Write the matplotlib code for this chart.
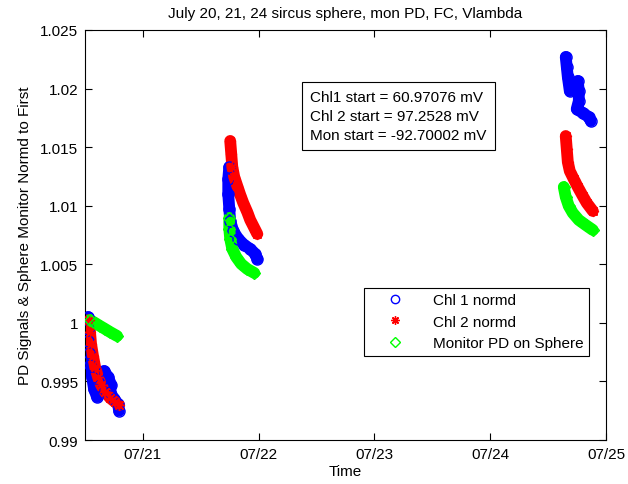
import numpy as np
import matplotlib
matplotlib.use('Agg')
from matplotlib import pyplot as plt
import matplotlib.dates as mdates
from matplotlib.ticker import FuncFormatter
from datetime import datetime

plt.rcParams['font.family'] = ['Liberation Sans', 'DejaVu Sans']
plt.rcParams['font.size'] = 11

nan = np.nan

# time in days of July, nan separates the three measurement days
chl1_t = [20.526, 20.526, 20.526, 20.535, 20.543, 20.561, 20.578, 20.604,
          20.664, 20.699, 20.725, 20.716, 20.751, 20.785, 20.794, nan,
          21.746, 21.737, 21.737, 21.746, 21.754, 21.780, 21.824, 21.875,
          21.927, 21.971, 21.988, nan,
          24.652, 24.661, 24.670, 24.687, 24.756, 24.765, 24.765, 24.747,
          24.799, 24.851, 24.868]
chl1_v = [1.00050, 0.99948, 0.99845, 0.99743, 0.99640, 0.99538, 0.99435, 0.99367,
          0.99589, 0.99538, 0.99470, 0.99410, 0.99350, 0.99307, 0.99250, nan,
          1.01331, 1.01228, 1.01100, 1.00972, 1.00870, 1.00784, 1.00716, 1.00665,
          1.00631, 1.00588, 1.00545, nan,
          1.02270, 1.02184, 1.02099, 1.01979, 1.02065, 1.01979, 1.01894, 1.01826,
          1.01792, 1.01757, 1.01723]

chl2_t = [20.535, 20.543, 20.552, 20.569, 20.587, 20.612, 20.638, 20.673,
          20.716, 20.760, 20.794, nan,
          21.754, 21.763, 21.772, 21.789, 21.815, 21.841, 21.867, 21.901,
          21.927, 21.962, 21.988, nan,
          24.652, 24.661, 24.670, 24.687, 24.721, 24.756, 24.799, 24.834, 24.886]
chl2_v = [1.00024, 0.99922, 0.99820, 0.99717, 0.99623, 0.99538, 0.99470, 0.99410,
          0.99359, 0.99324, 0.99299, nan,
          1.01553, 1.01442, 1.01331, 1.01245, 1.01168, 1.01092, 1.01023, 1.00946,
          1.00878, 1.00810, 1.00759, nan,
          1.01595, 1.01484, 1.01373, 1.01296, 1.01228, 1.01160, 1.01083, 1.01023, 1.00955]

mon_t = [20.543, 20.587, 20.630, 20.673, 20.716, 20.777, nan,
         21.746, 21.746, 21.754, 21.772, 21.806, 21.849, 21.901, 21.962, nan,
         24.635, 24.652, 24.678, 24.713, 24.765, 24.825, 24.886]
mon_v = [1.00024, 0.99999, 0.99973, 0.99948, 0.99922, 0.99888, nan,
         1.00895, 1.00801, 1.00716, 1.00631, 1.00562, 1.00503, 1.00460, 1.00426, nan,
         1.01160, 1.01075, 1.00998, 1.00938, 1.00878, 1.00835, 1.00793]

box_lines = ['Chl1 start = 60.97076 mV',
             'Chl 2 start = 97.2528 mV',
             'Mon start = -92.70002 mV']

base = mdates.date2num(datetime(2010, 7, 1))

def to_date(days):
    return base + np.array(days, dtype=float) - 1

fig = plt.figure(figsize=(6.28, 4.85), dpi=100)
ax = fig.add_axes([0.1354, 0.0907, 0.8296, 0.8454])

series = [(chl1_t, chl1_v, 'b', 'o', 'Chl 1 normd'),
          (chl2_t, chl2_v, 'r', (8, 2, 0), 'Chl 2 normd'),
          (mon_t, mon_v, '#00ff00', 'D', 'Monitor PD on Sphere')]

for t, v, c, m, lab in series:
    x = to_date(t)
    ax.plot(x, v, '-', color=c, lw=8.5, solid_capstyle='round', zorder=2)
    ax.plot(x, v, linestyle='none', marker=m, ms=8 if m != 'D' else 6.5,
            mfc='none', mec=c, mew=1, color=c, zorder=3)
    ax.plot([], [], linestyle='none', marker=m, ms=6 if m != 'D' else 5,
            mfc='none', mec=c, mew=1, label=lab)

ax.set_xlim(to_date([20.5])[0], to_date([25.0])[0])
ax.set_ylim(0.99, 1.025)
ax.xaxis.set_major_locator(mdates.DayLocator())
ax.xaxis.set_major_formatter(mdates.DateFormatter('%m/%d'))
ax.set_yticks(np.arange(0.99, 1.0251, 0.005))
ax.yaxis.set_major_formatter(FuncFormatter(lambda y, p: '%g' % round(y, 3)))
ax.tick_params(direction='in', top=True, right=True, length=5, labelsize=11, pad=5)

ax.set_title('July 20, 21, 24 sircus sphere, mon PD, FC, Vlambda', fontsize=11, pad=9)
ax.set_xlabel('Time', labelpad=2)
ax.set_ylabel('PD Signals & Sphere Monitor Normd to First', labelpad=6)

ax.text(0.432, 0.853, '\n'.join(box_lines), transform=ax.transAxes,
        ha='left', va='top', fontsize=11, linespacing=1.42,
        bbox=dict(boxstyle='square,pad=0.55', fc='white', ec='black', lw=0.8))

leg = ax.legend(loc='upper left', bbox_to_anchor=(0.52, 0.39), fancybox=False,
                edgecolor='black', framealpha=1, numpoints=1, handlelength=3.4,
                borderpad=0.35, labelspacing=0.5, fontsize=11)
leg.get_frame().set_linewidth(0.8)

plt.savefig('out.png', dpi=100)
